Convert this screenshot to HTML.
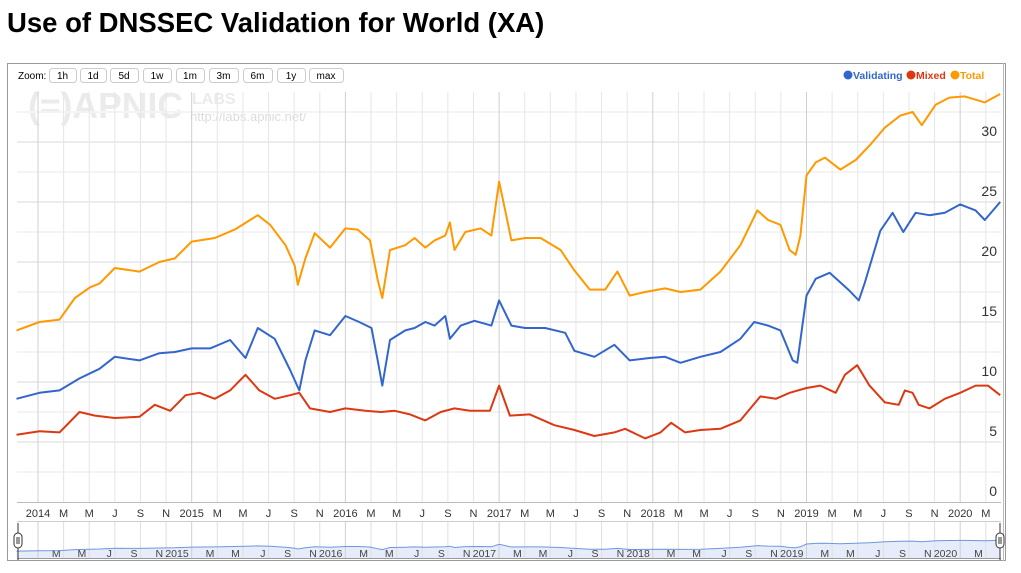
<!DOCTYPE html>
<html><head><meta charset="utf-8"><style>
body{margin:0;background:#fff;width:1021px;height:573px;overflow:hidden;font-family:"Liberation Sans",sans-serif}
#title{position:absolute;left:7px;top:7px;font-size:27.5px;font-weight:bold;color:#000;margin:0}
svg{position:absolute;left:0;top:0}
</style></head><body>
<h1 id="title">Use of DNSSEC Validation for World (XA)</h1>
<svg id="chart" width="1021" height="573"></svg>
<script>
const totalT=[2013.86,2014.01,2014.14,2014.24,2014.34,2014.40,2014.50,2014.66,2014.79,2014.89,2015.00,2015.15,2015.28,2015.43,2015.51,2015.61,2015.67,2015.69,2015.74,2015.80,2015.90,2016.00,2016.08,2016.16,2016.21,2016.24,2016.29,2016.39,2016.45,2016.52,2016.58,2016.65,2016.68,2016.71,2016.78,2016.88,2016.95,2017.00,2017.04,2017.08,2017.17,2017.27,2017.40,2017.49,2017.59,2017.69,2017.77,2017.85,2017.95,2018.08,2018.18,2018.31,2018.44,2018.57,2018.68,2018.75,2018.83,2018.89,2018.93,2018.96,2019.00,2019.06,2019.12,2019.22,2019.32,2019.41,2019.51,2019.61,2019.69,2019.75,2019.84,2019.93,2020.03,2020.16,2020.26];
const totalV=[14.3,15.0,15.2,17.0,17.9,18.2,19.5,19.2,20.0,20.3,21.7,22.0,22.7,23.9,23.1,21.4,19.7,18.1,20.3,22.4,21.2,22.8,22.7,21.8,18.5,17.0,21.0,21.4,22.0,21.2,21.8,22.2,23.3,21.0,22.5,22.8,22.2,26.7,24.3,21.8,22.0,22.0,21.0,19.3,17.7,17.7,19.2,17.2,17.5,17.8,17.5,17.7,19.2,21.4,24.3,23.5,23.1,21.0,20.6,22.2,27.2,28.3,28.7,27.7,28.5,29.7,31.2,32.2,32.5,31.4,33.1,33.7,33.8,33.3,34.0];
const validT=[2013.86,2014.01,2014.14,2014.27,2014.40,2014.50,2014.66,2014.79,2014.89,2015.00,2015.12,2015.25,2015.35,2015.43,2015.54,2015.64,2015.70,2015.74,2015.80,2015.90,2016.00,2016.09,2016.17,2016.21,2016.24,2016.29,2016.39,2016.45,2016.52,2016.58,2016.65,2016.68,2016.75,2016.84,2016.95,2017.00,2017.08,2017.17,2017.30,2017.43,2017.49,2017.62,2017.75,2017.85,2017.98,2018.08,2018.18,2018.31,2018.44,2018.57,2018.66,2018.75,2018.83,2018.91,2018.94,2019.00,2019.06,2019.15,2019.22,2019.28,2019.34,2019.38,2019.48,2019.56,2019.63,2019.71,2019.80,2019.90,2020.00,2020.10,2020.16,2020.26];
const validV=[8.6,9.1,9.3,10.3,11.1,12.1,11.8,12.4,12.5,12.8,12.8,13.5,12.0,14.5,13.6,11.0,9.3,11.8,14.3,13.9,15.5,15.0,14.5,11.8,9.7,13.5,14.3,14.5,15.0,14.7,15.5,13.6,14.7,15.1,14.7,16.8,14.7,14.5,14.5,14.1,12.6,12.1,13.1,11.8,12.0,12.1,11.6,12.1,12.5,13.6,15.0,14.7,14.3,11.8,11.6,17.2,18.6,19.1,18.3,17.6,16.8,18.3,22.6,24.1,22.5,24.1,23.9,24.1,24.8,24.3,23.5,25.0];
const mixedT=[2013.86,2014.01,2014.14,2014.27,2014.37,2014.50,2014.66,2014.76,2014.86,2014.96,2015.05,2015.15,2015.25,2015.35,2015.44,2015.54,2015.64,2015.70,2015.77,2015.90,2016.00,2016.13,2016.23,2016.32,2016.42,2016.52,2016.62,2016.71,2016.81,2016.94,2017.00,2017.07,2017.20,2017.36,2017.49,2017.62,2017.75,2017.82,2017.95,2018.05,2018.12,2018.21,2018.31,2018.44,2018.57,2018.70,2018.80,2018.89,2019.00,2019.09,2019.19,2019.25,2019.33,2019.41,2019.51,2019.60,2019.64,2019.69,2019.73,2019.80,2019.90,2020.00,2020.10,2020.18,2020.26];
const mixedV=[5.6,5.9,5.8,7.5,7.2,7.0,7.1,8.1,7.6,8.9,9.1,8.6,9.3,10.6,9.3,8.6,8.9,9.1,7.8,7.5,7.8,7.6,7.5,7.6,7.3,6.8,7.5,7.8,7.6,7.6,9.7,7.2,7.3,6.4,6.0,5.5,5.8,6.1,5.3,5.8,6.6,5.8,6.0,6.1,6.8,8.8,8.6,9.1,9.5,9.7,9.1,10.6,11.4,9.7,8.3,8.1,9.3,9.1,8.1,7.8,8.6,9.1,9.7,9.7,8.9];
const yTicks=[0,5,10,15,20,25,30];
const years=[2014,2015,2016,2017,2018,2019,2020];
const monthLabels=["","M","M","J","S","N"];

const NS="http://www.w3.org/2000/svg";
const svg=document.getElementById('chart');
function el(tag,attrs,parent){const e=document.createElementNS(NS,tag);for(const k in attrs)e.setAttribute(k,attrs[k]);(parent||svg).appendChild(e);return e;}
const X=t=>38+(t-2014)*153.7;
const Y=v=>502-12*v;
const NY=v=>559-0.55*v;
const L=17,R=1001;

let f=el('rect',{x:7.5,y:63.5,width:998,height:497,fill:'none',stroke:'#999'});


el('line',{x1:1003.5,y1:63,x2:1003.5,y2:561,stroke:'#bbb'});

let wm=el('g',{fill:'#ebebeb'});


let w1=el('text',{x:28,y:118,'font-size':36,'font-weight':'bold',textLength:155,lengthAdjust:'spacingAndGlyphs'},wm);w1.textContent='(=)APNIC';
let w2=el('text',{x:192,y:104,'font-size':16,'font-weight':'bold'},wm);w2.textContent='LABS';
let w3=el('text',{x:190,y:121,'font-size':13,fill:'#dcdcdc'},wm);w3.textContent='http://labs.apnic.net/';

// navigator background area first
let nd='M'+X(totalT[0])+',558';totalT.forEach((t,i)=>{nd+='L'+X(t).toFixed(1)+','+NY(totalV[i]).toFixed(1);});nd+='L'+X(totalT[totalT.length-1])+',558Z';
let na=el('path',{d:nd,fill:'#e6ecf9',stroke:'none'});



for(let v=2.5;v<=35;v+=2.5){if(Y(v)<92)continue;el('line',{x1:L,x2:R,y1:Y(v),y2:Y(v),stroke:(v%5===0)?'#ececec':'#f4f4f4','stroke-width':2});}
for(const yr of years){for(let m=0;m<12;m+=2){const t=yr+m/12;if(t>2020.3)continue;const x=X(t);
 el('line',{x1:x,x2:x,y1:92,y2:502,stroke:m===0?'#cfcfcf':'#e6e6e6'});
 const lb=el('text',{x:x,y:517,'font-size':11,'text-anchor':'middle',fill:'#333'});
 
 
 lb.textContent=m===0?String(yr):monthLabels[m/2];
 el('line',{x1:x,x2:x,y1:522,y2:558,stroke:m===0?'#cfcfcf':'#dfdfdf'});
 if(t<2014.1)continue;
 const nl=el('text',{x:x-3,y:557,'font-size':10.5,'text-anchor':'end',fill:'#444'});
 
 
 nl.textContent=m===0?String(yr):monthLabels[m/2];
}}
el('line',{x1:L,x2:R,y1:502.5,y2:502.5,stroke:'#bbb'});
for(const v of yTicks){const t=el('text',{x:997,y:Y(v)-6,'font-size':14,'text-anchor':'end',fill:'#333'});
 
 
 t.textContent=v;}

function line(T,V,color,name){let d='';T.forEach((t,i)=>{d+=(i?'L':'M')+X(t).toFixed(1)+','+Y(V[i]).toFixed(1);});
 const p=el('path',{d:d,fill:'none',stroke:color,'stroke-width':2,'stroke-linejoin':'round'});
 
 }
line(mixedT,mixedV,'#dc3912','mixed-line');
line(validT,validV,'#3366cc','validating-line');
line(totalT,totalV,'#ff9900','total-line');

el('line',{x1:L,x2:R,y1:521.5,y2:521.5,stroke:'#ccc'});
let nl2='';totalT.forEach((t,i)=>{nl2+=(i?'L':'M')+X(t).toFixed(1)+','+NY(totalV[i]).toFixed(1);});
let nline=el('path',{d:nl2,fill:'none',stroke:'#6f96de','stroke-width':1});


el('line',{x1:L,x2:R,y1:558.5,y2:558.5,stroke:'#999'});
for(const hx of [18,1000]){const g=el('g',{});
 
 
 el('line',{x1:hx,x2:hx,y1:523,y2:560,stroke:'#333'},g);
 el('rect',{x:hx-4,y:533,width:8,height:15,rx:4,fill:'#fff',stroke:'#333'},g);
 el('line',{x1:hx-1,x2:hx-1,y1:537,y2:544,stroke:'#333'},g);
 el('line',{x1:hx+1,x2:hx+1,y1:537,y2:544,stroke:'#333'},g);}

const zt=el('text',{x:18,y:79,'font-size':10,fill:'#000'});zt.textContent='Zoom:';


const btns=[['1h',49,27],['1d',80,26],['5d',110,28],['1w',143,28],['1m',176,28],['3m',209,29],['6m',243,29],['1y',277,28],['max',309,34]];
for(const b of btns){const g=el('g',{});
 
 
 el('rect',{x:b[1]+0.5,y:68.5,width:b[2],height:14,rx:3,fill:'#fff',stroke:'#ccc'},g);
 const t=el('text',{x:b[1]+b[2]/2,y:79,'font-size':10,'text-anchor':'middle',fill:'#000'},g);t.textContent=b[0];}

const leg=[['Validating','#3366cc',848],['Mixed','#dc3912',911],['Total','#ff9900',955]];
for(const l of leg){const g=el('g',{});
 
 
 el('circle',{cx:l[2],cy:75,r:4.5,fill:l[1]},g);
 const t=el('text',{x:l[2]+5,y:79,'font-size':10.5,'font-weight':'bold',fill:l[1]},g);t.textContent=l[0];}
</script>
</body></html>
